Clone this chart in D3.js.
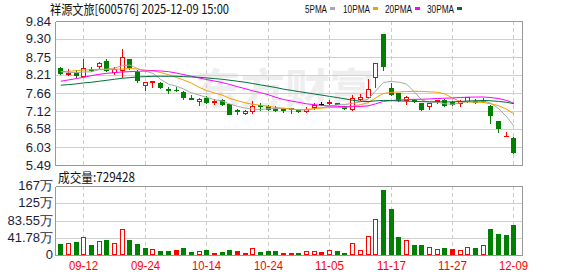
<!DOCTYPE html>
<html><head><meta charset="utf-8">
<script src="https://cdn.jsdelivr.net/npm/d3@7"></script>
<style>body{margin:0;background:#fff;}svg{display:block;}</style>
</head><body>
<svg id="c" width="578" height="276"></svg>
<script>
// ---------- data ----------
const dates = ["09-09","09-10","09-11","09-12","09-15","09-16","09-17","09-18","09-19","09-22","09-23","09-24","09-25","09-26","09-29","09-30",
"10-09","10-10","10-13","10-14","10-15","10-16","10-17","10-20","10-21","10-22","10-23","10-24","10-27","10-28","10-29","10-30","10-31",
"11-03","11-04","11-05","11-06","11-07","11-10","11-11","11-12","11-13","11-14","11-17","11-18","11-19","11-20","11-21","11-24","11-25","11-26","11-27","11-28",
"12-01","12-02","12-03","12-04","12-05","12-08","12-09"];
const opens  = [8.43,8.23,8.27,8.19,8.40,8.48,8.64,8.29,8.36,8.69,8.29,7.91,8.01,7.98,7.78,7.77,7.70,7.50,7.41,7.52,
                7.38,7.44,7.33,7.14,7.05,7.12,7.29,7.26,7.21,7.19,7.20,7.16,7.13,7.23,7.33,7.36,7.37,7.27,7.19,7.49,
                7.55,8.14,9.44,7.82,7.66,7.45,7.45,7.35,7.26,7.43,7.44,7.40,7.36,7.43,7.43,7.42,7.27,6.82,6.36,6.31];
const highs  = [8.46,8.38,8.35,8.68,8.44,8.61,8.70,8.46,8.99,8.70,8.36,8.00,8.04,8.00,7.84,7.85,7.73,7.60,7.50,7.56,
                7.47,7.47,7.34,7.17,7.14,7.42,7.37,7.30,7.27,7.22,7.21,7.17,7.24,7.35,7.40,7.44,7.37,7.28,7.60,7.62,
                8.09,8.58,9.44,7.98,7.67,7.56,7.49,7.37,7.35,7.44,7.47,7.41,7.45,7.55,7.48,7.50,7.30,6.82,6.50,6.34];
const lows   = [8.25,8.20,8.16,8.18,8.33,8.41,8.34,8.24,8.16,8.39,8.01,7.76,7.84,7.82,7.66,7.74,7.49,7.47,7.29,7.37,
                7.34,7.31,7.02,7.04,7.03,7.07,7.15,7.14,7.12,7.08,7.06,7.10,7.10,7.18,7.30,7.33,7.33,7.19,7.15,7.44,
                7.52,7.86,8.36,7.60,7.43,7.32,7.38,7.14,7.17,7.35,7.28,7.29,7.26,7.40,7.35,7.39,6.77,6.50,6.36,5.86];
const closes = [8.26,8.28,8.22,8.41,8.36,8.58,8.36,8.39,8.75,8.46,8.05,7.99,8.04,7.84,7.75,7.76,7.53,7.48,7.49,7.40,
                7.41,7.34,7.04,7.12,7.13,7.27,7.26,7.17,7.14,7.16,7.17,7.13,7.17,7.31,7.33,7.40,7.33,7.21,7.50,7.55,
                7.80,8.58,8.49,7.64,7.45,7.53,7.42,7.19,7.35,7.44,7.30,7.33,7.42,7.53,7.38,7.45,6.99,6.62,6.37,5.89];
const volumes = [270000,287000,320000,434000,246000,344000,369000,287000,631000,369000,270000,172000,140000,98000,98000,123000,165000,74000,98000,123000,
                 41000,74000,123000,98000,49000,164000,74000,98000,98000,41000,41000,49000,98000,98000,74000,123000,98000,49000,295000,123000,
                 459000,877000,1573000,1106000,442000,369000,246000,246000,189000,140000,172000,140000,123000,189000,172000,246000,639000,516000,491000,729428];
const ma5Head  = [8.31,8.29,8.28,8.30];
const ma10Head = [8.31,8.32,8.34,8.36,8.37,8.38,8.38,8.38,8.39];
const ma20Head = [8.02,8.06,8.10,8.14,8.19,8.23,8.26,8.28,8.30,8.31,8.32,8.33,8.34,8.33,8.31,8.27,8.22,8.17,8.12];
const ma30Head = [7.90,7.92,7.94,7.97,7.99,8.02,8.05,8.08,8.11,8.13,8.15,8.16,8.17,8.17,8.17,8.17,8.16,8.15,8.14,8.12,
                  8.10,8.08,8.05,8.02,7.99,7.95,7.91,7.87,7.83];
const priceTicks = [9.84,9.30,8.75,8.21,7.66,7.12,6.58,6.03,5.49];
const volTicks = [0,417775,835550,1253325,1671100];
const volTickLabels = ["0","41.78万","83.55万","125万","167万"];
const xTickLabels = ["09-12","09-24","10-14","10-24","11-05","11-17","11-27","12-09"];
const maNames = ["5PMA","10PMA","20PMA","30PMA"];
const maPeriods = [5,10,20,30];
const title = "祥源文旅[600576] 2025-12-09 15:00";
const volTitle = "成交量:729428";

// ---------- layout ----------
const svg = d3.select("#c");
const L = 55.5, R = 522.5;
const pTop = 21, pBot = 165, vTop = 186, vBot = 255;
const RED = "#ff0000", GREEN = "#008000";
const maColors = ["#a8a8a8","#f0a000","#ff00ff","#00703a"];

const x = d3.scaleBand().domain(dates).range([56.5, 517.3]).paddingInner(0).paddingOuter(0);
const cx = d => Math.round(x(d) + x.bandwidth()/2);
const yP = d3.scaleLinear().domain([5.49, 9.84]).range([pBot, pTop]);
const yV = d3.scaleLinear().domain([0, 1671100]).range([vBot, vTop]);

const data = dates.map((d,i)=>({d, i, o:opens[i], h:highs[i], l:lows[i], c:closes[i], v:volumes[i]}));

// watermark
svg.append("text").attr("x",196).attr("y",104).attr("font-family","Noto Sans CJK SC").attr("font-weight","bold")
  .attr("font-size",42).attr("fill","#eeeeee").attr("textLength",178).attr("lengthAdjust","spacingAndGlyphs").text("东方财富");

// horizontal grid (price)
const g = svg.append("g").attr("shape-rendering","crispEdges");
priceTicks.forEach(t=>{
  const yy = Math.round(yP(t))+0.5;
  g.append("line").attr("x1",L).attr("x2",R).attr("y1",yy).attr("y2",yy).attr("stroke","#d0d0d0");
});
volTicks.forEach(t=>{
  const yy = Math.round(yV(t))+0.5;
  g.append("line").attr("x1",L).attr("x2",R).attr("y1",yy).attr("y2",yy).attr("stroke","#d0d0d0");
});
// vertical dashed grid at tick dates
xTickLabels.forEach(lab=>{
  const xx = cx(lab)+0.5;
  g.append("line").attr("x1",xx).attr("x2",xx).attr("y1",pTop).attr("y2",pBot).attr("stroke","#cccccc").attr("stroke-dasharray","4,3");
  g.append("line").attr("x1",xx).attr("x2",xx).attr("y1",vTop).attr("y2",vBot).attr("stroke","#cccccc").attr("stroke-dasharray","4,3");
});
// borders
[[pTop,pBot],[vTop,vBot]].forEach(([a,b])=>{
  const ya = Math.round(a)+0.5, yb = Math.round(b)+0.5;
  g.append("line").attr("x1",L).attr("x2",R).attr("y1",ya).attr("y2",ya).attr("stroke","#999");
  g.append("line").attr("x1",L).attr("x2",R).attr("y1",yb).attr("y2",yb).attr("stroke","#999");
  g.append("line").attr("x1",L).attr("x2",L).attr("y1",ya).attr("y2",yb).attr("stroke","#999");
  g.append("line").attr("x1",R).attr("x2",R).attr("y1",ya).attr("y2",yb).attr("stroke","#999");
});

// candles
const cg = svg.append("g").attr("shape-rendering","crispEdges");
data.forEach(k=>{
  const xc = cx(k.d);
  const col = k.c > k.o ? RED : (k.c < k.o ? GREEN : "#000");
  const yh = Math.round(yP(k.h)), yl = Math.round(yP(k.l));
  const yt = Math.round(yP(Math.max(k.o,k.c))), yb = Math.round(yP(Math.min(k.o,k.c)));
  cg.append("line").attr("x1",xc+0.5).attr("x2",xc+0.5).attr("y1",yh).attr("y2",yl+1).attr("stroke",col);
  if (k.c > k.o && yb - yt >= 2) {
    cg.append("rect").attr("x",xc-2+0.5).attr("y",yt+0.5).attr("width",4).attr("height",yb-yt)
      .attr("fill","#fff").attr("stroke",col);
  } else {
    cg.append("rect").attr("x",xc-2).attr("y",yt).attr("width",5).attr("height",Math.max(1,yb-yt+1)).attr("fill",col);
  }
});

// moving averages
const maHeads = [ma5Head, ma10Head, ma20Head, ma30Head];
maPeriods.forEach((n,j)=>{
  const vals = closes.map((c,i)=> i < n-1 ? maHeads[j][i] : d3.mean(closes.slice(i-n+1,i+1)));
  const line = d3.line().x((v,i)=>x(dates[i])+x.bandwidth()/2+0.5).y(v=>yP(v));
  svg.append("path").attr("d",line(vals)).attr("fill","none").attr("stroke",maColors[j]).attr("stroke-width",1);
});

// volume bars: colour by close vs previous close
const vg = svg.append("g").attr("shape-rendering","crispEdges");
data.forEach((k,i)=>{
  const xc = cx(k.d);
  const prev = i>0 ? closes[i-1] : k.o;
  const up = k.c >= prev;
  const yt = Math.round(yV(k.v)), yb = Math.round(yV(0));
  if (up && k.c > k.o) {
    vg.append("rect").attr("x",xc-2+0.5).attr("y",yt+0.5).attr("width",4).attr("height",Math.max(1,yb-yt-1))
      .attr("fill","#fff").attr("stroke",RED);
  } else {
    vg.append("rect").attr("x",xc-2).attr("y",yt).attr("width",5).attr("height",yb-yt).attr("fill",up?RED:GREEN);
  }
});

// axis labels
const axFont = "Liberation Sans, Arial, sans-serif";
priceTicks.forEach(t=>{
  svg.append("text").attr("x",51).attr("y",yP(t)+4.5).attr("text-anchor","end").attr("font-family",axFont)
    .attr("font-size",13).attr("fill","#1c1c38").text(t.toFixed(2));
});
volTicks.forEach((t,i)=>{
  svg.append("text").attr("x",53).attr("y",yV(t)+4).attr("text-anchor","end").attr("font-family",axFont)
    .attr("font-size",13).attr("fill","#1c1c38").text(volTickLabels[i]);
});
xTickLabels.forEach(lab=>{
  svg.append("text").attr("x",cx(lab)+0.5).attr("y",270).attr("text-anchor","middle").attr("font-family",axFont)
    .attr("font-size",13).attr("fill",RED).attr("textLength",29).attr("lengthAdjust","spacingAndGlyphs").text(lab);
});

// titles
svg.append("text").attr("x",50).attr("y",14).attr("font-family","Noto Sans CJK SC").attr("font-size",13)
  .attr("fill","#111").attr("textLength",179).attr("lengthAdjust","spacingAndGlyphs").text(title);
svg.append("text").attr("x",58).attr("y",182).attr("font-family","Noto Sans CJK SC").attr("font-size",13)
  .attr("fill","#111").attr("textLength",77).attr("lengthAdjust","spacingAndGlyphs").text(volTitle);

// legend
const legX = [305,343,385,427], legW = [22,27,27,27], mkX = [330,373,415,457];
maNames.forEach((nm,j)=>{
  svg.append("text").attr("x",legX[j]).attr("y",13).attr("font-family",axFont).attr("font-size",11)
    .attr("fill","#111").attr("textLength",legW[j]).attr("lengthAdjust","spacingAndGlyphs").text(nm);
  svg.append("rect").attr("x",mkX[j]).attr("y",7).attr("width",5).attr("height",3).attr("fill",maColors[j]);
});
</script>
</body></html>
